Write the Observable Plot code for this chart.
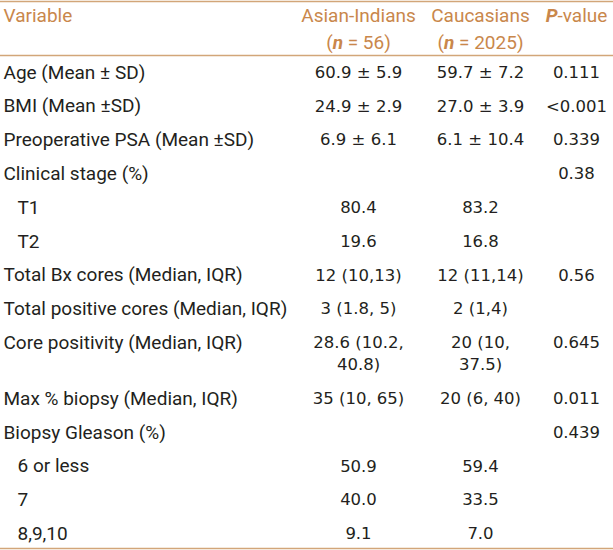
<!DOCTYPE html>
<html><head><meta charset="utf-8">
<script src="https://cdn.jsdelivr.net/npm/d3@7"></script>
<script src="https://cdn.jsdelivr.net/npm/@observablehq/plot@0.6"></script>
<style>
html,body{margin:0;padding:0;background:#fff;overflow:hidden;}
svg{display:block;}
</style>
</head><body><div id="chart"></div>
<script>
// ---- data ----
const headerLabels = ["Variable", "Asian-Indians", "Caucasians", "P-value"];
const groupN = [56, 2025];
const variables = ["Age (Mean ± SD)", "BMI (Mean ±SD)", "Preoperative PSA (Mean ±SD)", "Clinical stage (%)", "T1", "T2",
  "Total Bx cores (Median, IQR)", "Total positive cores (Median, IQR)", "Core positivity (Median, IQR)",
  "Max % biopsy (Median, IQR)", "Biopsy Gleason (%)", "6 or less", "7", "8,9,10"];
const subLevel = [0, 0, 0, 0, 1, 1, 0, 0, 0, 0, 0, 1, 1, 1];
const asianIndians = ["60.9 ± 5.9", "24.9 ± 2.9", "6.9 ± 6.1", "", "80.4", "19.6", "12 (10,13)", "3 (1.8, 5)",
  "28.6 (10.2,\n40.8)", "35 (10, 65)", "", "50.9", "40.0", "9.1"];
const caucasians = ["59.7 ± 7.2", "27.0 ± 3.9", "6.1 ± 10.4", "", "83.2", "16.8", "12 (11,14)", "2 (1,4)",
  "20 (10,\n37.5)", "20 (6, 40)", "", "59.4", "33.5", "7.0"];
const pValues = ["0.111", "<0.001", "0.339", "0.38", "", "", "0.56", "", "0.645", "0.011", "0.439", "", "", ""];

// ---- layout (styles, not data) ----
const colX = {label: 3, asian: 358, cauc: 480, p: 576};
const colAnchor = {label: "start", asian: "middle", cauc: "middle", p: "middle"};
const extraLine = 0.65;     // row units per additional body text line
const headerRow = -1.66;    // header first line, in row units
const headerLine = 0.79;    // row units between header lines
const headColor = "#C9874B";
const ruleColor = "#D2A679";
const bodyColor = "#231F20";
const textFont = "Roboto";
const numFont = "DejaVu Sans";

// row positions in row units, derived from row order and line count
let acc = 0;
const rows = variables.map((v, i) => {
  const vals = {asian: asianIndians[i], cauc: caucasians[i], p: pValues[i]};
  const lines = Math.max(...Object.values(vals).map(s => s.split("\n").length));
  const r = {i, y: acc, label: v, level: subLevel[i], ...vals};
  acc += 1 + (lines - 1) * extraLine;
  return r;
});
const lastY = rows[rows.length - 1].y;

// one datum per text line of each value cell
const cells = rows.flatMap(r => ["asian", "cauc", "p"].flatMap(col =>
  r[col] === "" ? [] : r[col].split("\n").map((s, k) => ({col, text: s, y: r.y + k * extraLine}))));

const header = [
  {col: "label", lines: [headerLabels[0]]},
  {col: "asian", lines: [headerLabels[1], `(n = ${groupN[0]})`]},
  {col: "cauc", lines: [headerLabels[2], `(n = ${groupN[1]})`]},
  {col: "p", lines: [headerLabels[3]]}
].flatMap(h => h.lines.map((s, k) => ({col: h.col, text: s, y: headerRow + k * headerLine})));

const svg = Plot.plot({
  width: 613, height: 550, margin: 0,
  style: {background: "#fff"},
  x: {type: "identity"},
  y: {domain: [-2.13, 14.142], range: [0, 550], axis: null},
  marks: [
    Plot.ruleY([-2.1, -0.5, lastY + 0.43], {stroke: ruleColor, strokeWidth: 1.5}),
    ...["start", "middle"].map(a => Plot.text(header.filter(d => colAnchor[d.col] === a), {
      x: d => colX[d.col], y: "y", text: "text", textAnchor: a,
      fontFamily: textFont, fontSize: 19, fill: headColor})),
    ...[0, 1].map(lvl => Plot.text(rows.filter(d => d.level === lvl), {
      x: () => colX.label, dx: lvl * 14, y: "y", text: "label", textAnchor: "start",
      fontFamily: textFont, fontSize: 19, fill: bodyColor})),
    Plot.text(cells, {x: d => colX[d.col], y: "y", text: "text", textAnchor: "middle",
      fontFamily: numFont, fontSize: 16.5, fill: bodyColor})
  ]
});

// italic/bold emphasis inside header text
const NS = "http://www.w3.org/2000/svg";
svg.querySelectorAll("text, tspan").forEach(el => {
  if (el.children.length) return;
  const t = el.textContent;
  let m;
  const emph = s => { const e = document.createElementNS(NS, "tspan"); e.setAttribute("font-style", "italic"); e.setAttribute("font-weight", "bold"); e.textContent = s; return e; };
  if ((m = t.match(/^\(n = (\d+)\)$/))) {
    el.textContent = "(";
    el.appendChild(emph("n"));
    el.appendChild(document.createTextNode(` = ${m[1]})`));
  } else if (t === "P-value") {
    el.textContent = "";
    el.appendChild(emph("P"));
    el.appendChild(document.createTextNode("-value"));
  }
});
document.getElementById("chart").appendChild(svg);
</script>
</body></html>
